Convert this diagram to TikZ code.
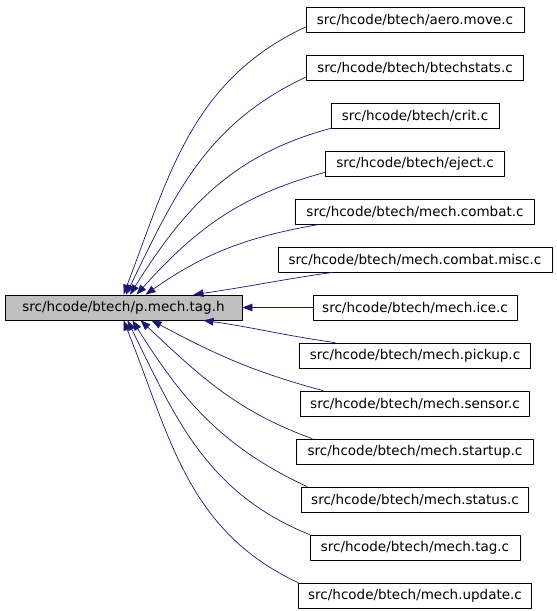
\documentclass[tikz,border=0pt]{standalone}
\usepackage{fontspec}
\setmainfont{DejaVu Sans}
\usetikzlibrary{arrows.meta}
\definecolor{edgeblue}{RGB}{25,25,112}
\definecolor{hdrfill}{RGB}{191,191,191}
\tikzset{
    lab/.style={
        font=\fontsize{13.5}{16}\selectfont
    }
}

\begin{document}
\begin{tikzpicture}[x=1pt,y=-1pt, line cap=round, line join=round]

\tikzset{
  file/.style={lab, draw=black, fill=white, line width=0.8pt, minimum width=#1, minimum height=25pt, inner sep=0pt},
  hdr/.style={file=#1, fill=hdrfill},
  dep/.style={draw=edgeblue, line width=0.7pt, -{Triangle[length=10pt,width=7.5pt]}},
}

\useasboundingbox (0,0) rectangle (557,611);

% header
\node[hdr=237] (ptag) at (123.5,307.5) {src/hcode/btech/p.mech.tag.h};

% files that include it
\node[file=218] (aero)    at (415,19.5)  {src/hcode/btech/aero.move.c};
\node[file=217] (bstats)  at (415,67.5)  {src/hcode/btech/btechstats.c};
\node[file=168] (crit)    at (415,115.5) {src/hcode/btech/crit.c};
\node[file=179] (eject)   at (415,163.5) {src/hcode/btech/eject.c};
\node[file=239] (combat)  at (415,211.5) {src/hcode/btech/mech.combat.c};
\node[file=274] (misc)    at (415,259.5) {src/hcode/btech/mech.combat.misc.c};
\node[file=204] (ice)     at (415,307.5) {src/hcode/btech/mech.ice.c};
\node[file=231] (pickup)  at (415,355.5) {src/hcode/btech/mech.pickup.c};
\node[file=229] (sensor)  at (415,403.5) {src/hcode/btech/mech.sensor.c};
\node[file=237] (startup) at (415,451.5) {src/hcode/btech/mech.startup.c};
\node[file=227] (status)  at (415,499.5) {src/hcode/btech/mech.status.c};
\node[file=210] (mtag)    at (415,547.5) {src/hcode/btech/mech.tag.c};
\node[file=233] (update)  at (415,595.5) {src/hcode/btech/mech.update.c};

% edges into the top of the header
\draw[dep] ([yshift=-7.5pt]aero.west) to[out=205,in=69] (ptag.north);
\draw[dep] ([yshift=-9.5pt]bstats.west) to[out=205,in=64] ([xshift=2.5pt]ptag.north);
\draw[dep] (crit.south west) to[out=195,in=58] ([xshift=6.5pt]ptag.north);
\draw[dep] ([yshift=4pt]eject.south west) to[out=195,in=48] ([xshift=13pt]ptag.north);
\draw[dep] ([xshift=24pt]combat.south west) to[out=190,in=35] ([xshift=22pt]ptag.north);
\draw[dep] ([xshift=55pt]misc.south west) to[out=188,in=8] ([xshift=70pt]ptag.north);

% straight edge
\draw[dep] (ice.west) -- (ptag.east);

% edges into the bottom of the header
\draw[dep] ([xshift=36pt]pickup.north west) to[out=172,in=-8] ([xshift=80pt]ptag.south);
\draw[dep] ([xshift=23pt]sensor.north west) to[out=165,in=-28] ([xshift=28pt]ptag.south);
\draw[dep] ([xshift=16pt]startup.north west) to[out=160,in=-43] ([xshift=17pt]ptag.south);
\draw[dep] ([xshift=6pt]status.north west) to[out=155,in=-58] ([xshift=9pt]ptag.south);
\draw[dep] (mtag.north west) to[out=158,in=-64] ([xshift=4pt]ptag.south);
\draw[dep] (update.north west) to[out=155,in=-68] (ptag.south);

\end{tikzpicture}
\end{document}
